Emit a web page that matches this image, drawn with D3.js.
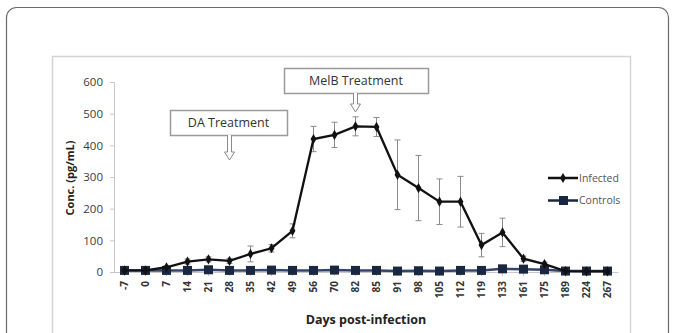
<!DOCTYPE html>
<html>
<head>
<meta charset="utf-8">
<script src="https://cdn.jsdelivr.net/npm/d3@7"></script>
<style>
  html, body { margin: 0; padding: 0; background: #fff; }
  svg { display: block; }
</style>
</head>
<body>
<svg id="chart" width="676" height="333"></svg>
<script>
const days     = ['-7','0','7','14','21','28','35','42','49','56','70','82','85','91','98','105','112','119','133','161','175','189','224','267']
const infected = [5, 5, 15, 33, 40, 35, 57, 75, 130, 420, 433, 460, 458, 307, 265, 222, 222, 85, 125, 42, 25, 3, 2, 2]
const infErr   = [3, 3, 5, 8, 8, 8, 25, 12, 22, 40, 40, 30, 30, 110, 103, 72, 80, 37, 45, 8, 6, 2, 2, 2]
const controls = [5, 5, 5, 5, 7, 5, 5, 6, 5, 5, 6, 5, 5, 3, 4, 3, 5, 5, 10, 9, 7, 3, 3, 3]
const yTicks   = [0, 100, 200, 300, 400, 500, 600]
const notes    = [
  { label: 'DA Treatment',   day: '28', box: [170, 110, 117, 25], tip: 160 },
  { label: 'MelB Treatment', day: '82', box: [284, 68, 144, 25],  tip: 112 },
]

const FONT = "'Open Sans', 'Liberation Sans', sans-serif"
const svg = d3.select('#chart')

// outer card + inner chart frame
svg.append('rect')
  .attr('x', 6.5).attr('y', 7.5).attr('width', 662).attr('height', 340)
  .attr('rx', 10).attr('fill', '#fff').attr('stroke', '#6a6a6a').attr('stroke-width', 1.2)
svg.append('rect')
  .attr('x', 52.5).attr('y', 56.5).attr('width', 578).attr('height', 300)
  .attr('fill', '#fff').attr('stroke', '#d4d4d4').attr('stroke-width', 1.5)

const x = d3.scaleBand().domain(days).range([114, 618])
const y = d3.scaleLinear().domain([0, 600]).range([272, 82])
const cx = d => x(d) + x.bandwidth() / 2

// y axis
const yAxis = svg.append('g')
  .attr('transform', 'translate(114,0)')
  .call(d3.axisLeft(y).tickValues(yTicks).tickSize(4).tickPadding(7))
yAxis.select('.domain').attr('stroke', '#c8c8c8')
yAxis.selectAll('line').attr('stroke', '#c8c8c8')
yAxis.selectAll('text')
  .attr('font-family', FONT).attr('font-size', 11.5).attr('fill', '#3a3a3a')

// x axis
const xAxis = svg.append('g')
  .attr('transform', 'translate(0,272)')
  .call(d3.axisBottom(x).tickSize(4).tickSizeOuter(0).tickPadding(4))
xAxis.select('.domain').attr('stroke', '#c8c8c8')
xAxis.selectAll('line').attr('stroke', '#c8c8c8')
xAxis.selectAll('text')
  .attr('font-family', FONT).attr('font-size', 10).attr('font-weight', 'bold').attr('fill', '#333')
  .attr('transform', 'rotate(-90)')
  .attr('text-anchor', 'end')
  .attr('dy', '0.35em')
  .attr('x', -9).attr('y', 0)

// axis titles
svg.append('text')
  .attr('transform', 'translate(74,178) rotate(-90)')
  .attr('text-anchor', 'middle')
  .attr('font-family', FONT).attr('font-size', 11).attr('font-weight', 'bold').attr('fill', '#222')
  .text('Conc. (pg/mL)')
svg.append('text')
  .attr('x', 366).attr('y', 324)
  .attr('text-anchor', 'middle')
  .attr('font-family', FONT).attr('font-size', 12.5).attr('font-weight', 'bold').attr('fill', '#222')
  .text('Days post-infection')

// error bars (infected)
const errG = svg.append('g').attr('stroke', '#8a8a8a').attr('stroke-width', 1)
days.forEach((d, i) => {
  const lo = y(Math.max(0, infected[i] - infErr[i])), hi = y(infected[i] + infErr[i])
  errG.append('line').attr('x1', cx(d)).attr('x2', cx(d)).attr('y1', lo).attr('y2', hi)
  errG.append('line').attr('x1', cx(d) - 3).attr('x2', cx(d) + 3).attr('y1', lo).attr('y2', lo)
  errG.append('line').attr('x1', cx(d) - 3).attr('x2', cx(d) + 3).attr('y1', hi).attr('y2', hi)
})

const line = d3.line().x((v, i) => cx(days[i])).y(v => y(v))

// controls
svg.append('path')
  .attr('d', line(controls))
  .attr('fill', 'none').attr('stroke', '#33456a').attr('stroke-width', 2.5)
svg.append('g')
  .selectAll('rect')
  .data(controls)
  .join('rect')
    .attr('x', (v, i) => cx(days[i]) - 4.5)
    .attr('y', v => y(v) - 4.5)
    .attr('width', 9).attr('height', 9)
    .attr('fill', '#1a2740')

// infected
svg.append('path')
  .attr('d', line(infected))
  .attr('fill', 'none').attr('stroke', '#111').attr('stroke-width', 2.3)
svg.append('g')
  .selectAll('path')
  .data(infected)
  .join('path')
    .attr('d', d3.symbol(d3.symbolDiamond, 30))
    .attr('transform', (v, i) => `translate(${cx(days[i])},${y(v)})`)
    .attr('fill', '#111')

// treatment annotations
notes.forEach(n => {
  const [bx, by, bw, bh] = n.box
  const ax = cx(n.day), top = by + bh
  svg.append('rect')
    .attr('x', bx + 0.5).attr('y', by + 0.5).attr('width', bw).attr('height', bh)
    .attr('fill', '#fff').attr('stroke', '#9a9a9a').attr('stroke-width', 1.5)
  svg.append('text')
    .attr('x', bx + bw / 2).attr('y', by + bh / 2 + 4.5)
    .attr('text-anchor', 'middle')
    .attr('font-family', FONT).attr('font-size', 12.5).attr('fill', '#333')
    .text(n.label)
  const t = n.tip
  svg.append('path')
    .attr('d', `M${ax - 2},${top} L${ax - 2},${t - 8} L${ax - 5},${t - 8} L${ax},${t} L${ax + 5},${t - 8} L${ax + 2},${t - 8} L${ax + 2},${top}`)
    .attr('fill', '#fff').attr('stroke', '#8a8a8a').attr('stroke-width', 1)
})

// legend
const legend = [
  { name: 'Infected', color: '#111', mark: 'diamond' },
  { name: 'Controls', color: '#1a2740', mark: 'square' },
]
legend.forEach((l, i) => {
  const ly = 178 + i * 22.5
  svg.append('line')
    .attr('x1', 548).attr('x2', 578).attr('y1', ly).attr('y2', ly)
    .attr('stroke', l.color).attr('stroke-width', 2.5)
  if (l.mark === 'diamond') {
    svg.append('path').attr('d', d3.symbol(d3.symbolDiamond, 30))
      .attr('transform', `translate(563,${ly})`).attr('fill', l.color)
  } else {
    svg.append('rect').attr('x', 559).attr('y', ly - 4.5).attr('width', 9).attr('height', 9).attr('fill', l.color)
  }
  svg.append('text')
    .attr('x', 579).attr('y', ly + 3.5)
    .attr('font-family', FONT).attr('font-size', 10.5).attr('fill', '#555')
    .text(l.name)
})
</script>
</body>
</html>
